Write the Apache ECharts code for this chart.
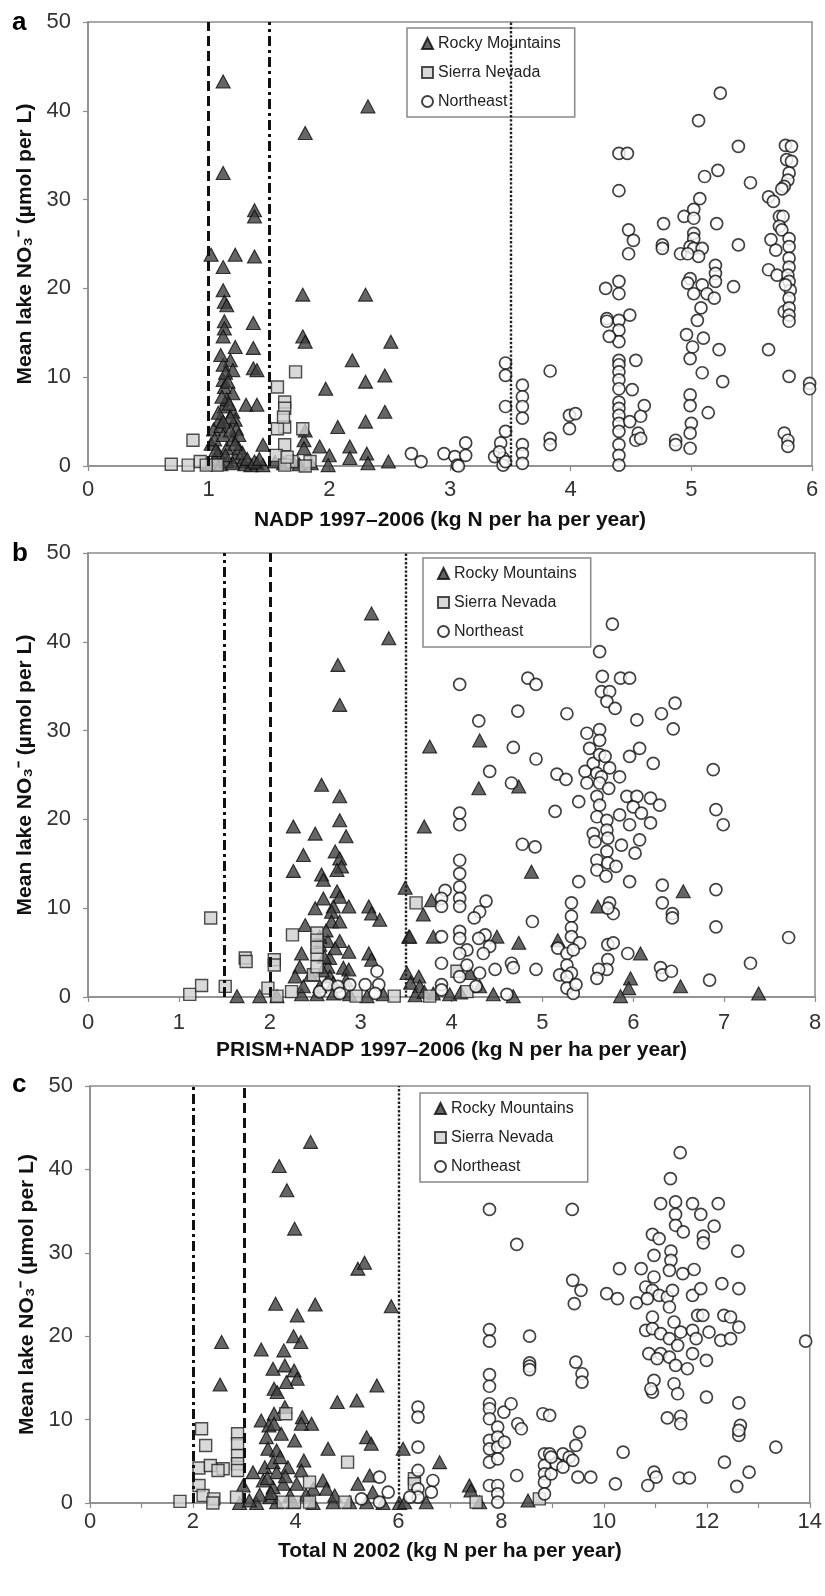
<!DOCTYPE html>
<html>
<head>
<meta charset="utf-8">
<script src="https://cdn.jsdelivr.net/npm/echarts@6/dist/echarts.min.js"></script>
<style>html,body{margin:0;padding:0;background:#fff;}#c{width:825px;height:1596px;}</style>
</head>
<body>
<div id="c"></div>
<script>
// ---------- DATA ----------
var seriesNames = ['Rocky Mountains', 'Sierra Nevada', 'Northeast'];
var yTicks = [0, 10, 20, 30, 40, 50];
var xMaxA = 6, xMaxB = 8, xMaxC = 14;
var xTitleA = 'NADP 1997\u20132006 (kg N per ha per year)';
var xTitleB = 'PRISM+NADP 1997\u20132006 (kg N per ha per year)';
var xTitleC = 'Total N 2002 (kg N per ha per year)';
var yTitle = 'Mean lake NO\u2083\u207B (\u00B5mol per L)';
var panelLetters = ['a', 'b', 'c'];
// vertical reference lines: [dashed, dash-dot, dotted]
var linesA = [1.0, 1.5, 3.5];
var linesB = [2.0, 1.5, 3.5];
var linesC = [3.0, 2.0, 6.0];

var rockyA = [[1.12,43.3],[1.12,33.0],[1.38,28.8],[1.38,28.1],[1.02,23.8],[1.22,23.8],[1.38,23.6],[1.12,22.4],[1.12,19.8],[1.13,18.5],[1.15,18.1],[1.37,16.1],[1.13,16.3],[1.13,15.5],[1.12,14.6],[1.22,13.4],[1.37,13.3],[1.18,11.9],[1.12,11.4],[1.20,10.8],[1.37,11.0],[1.40,10.8],[1.12,9.7],[1.13,8.9],[1.20,8.2],[1.31,6.9],[1.40,6.9],[1.13,6.7],[1.20,6.1],[1.09,5.2],[1.22,5.2],[1.23,4.2],[1.04,4.1],[1.45,2.4],
[1.02,2.5],[1.05,3.0],[1.08,1.5],[1.10,4.5],[1.12,3.5],[1.15,2.0],[1.18,5.5],[1.20,3.0],[1.22,1.0],[1.25,2.0],[1.28,0.5],[1.05,0.8],[1.00,0.3],[1.10,0.2],[1.15,0.5],[1.20,0.3],[1.30,0.2],[1.35,0.1],[1.40,0.3],[1.45,0.1],[1.08,6.0],[1.15,7.5],[1.18,4.0],[1.12,5.0],[1.25,3.5],[1.28,1.5],[1.32,0.8],[1.38,0.5],[1.42,0.8],[1.10,12.5],[1.14,10.5],[1.16,9.5],[1.11,7.8],[1.17,7.0],[1.06,1.8],[1.14,1.2],[1.22,2.5],
[1.80,37.5],[2.32,40.5],[1.78,19.3],[2.30,19.3],[1.78,14.6],[1.80,14.0],[2.51,14.0],[2.19,11.9],[2.46,10.2],[2.30,9.5],[1.97,8.7],[2.46,6.1],[2.30,5.0],[2.07,4.4],[1.79,2.9],[1.92,2.2],[1.79,2.0],[2.00,1.2],[2.17,2.2],[2.17,0.9],[2.31,1.4],[2.32,0.3],[2.49,0.5],[1.99,0.1],[1.80,4.0],[1.62,0.3],[1.70,0.5],[1.75,0.2],[1.55,0.5],[1.85,0.3]];
var sierraA = [[0.69,0.2],[0.83,0.1],[0.87,2.9],[0.93,0.5],[1.07,0.1],[0.98,0.1],[1.72,10.6],[1.57,8.9],[1.63,7.2],[1.63,6.5],[1.63,4.4],[1.57,4.2],[1.78,4.2],[1.63,2.4],[1.56,1.2],[1.69,0.5],[1.84,0.5],[1.63,0.1],[1.80,0.0],[1.65,1.0],[1.62,5.5]];
var northeastA = [[2.68,1.4],[2.76,0.5],[2.95,1.4],[3.04,1.05],[3.06,0.1],[3.07,0.0],[3.13,2.6],[3.13,1.2],[3.37,1.05],[3.42,2.6],[3.46,3.9],[3.44,0.9],[3.44,0.1],[3.46,0.5],[3.41,1.6],[3.46,11.6],[3.46,10.2],[3.46,6.7],[3.60,9.1],[3.60,7.8],[3.60,6.7],[3.60,5.4],[3.60,2.4],[3.60,1.4],[3.60,0.3],[3.83,10.7],[3.83,3.1],[3.83,2.4],[3.99,5.7],[4.04,5.9],[3.99,4.2],
[4.40,35.2],[4.40,31.0],[4.40,20.8],[4.40,19.4],[4.40,16.4],[4.40,15.3],[4.40,14.0],[4.40,11.9],[4.40,11.4],[4.40,10.6],[4.40,9.7],[4.40,8.7],[4.40,7.2],[4.40,6.5],[4.40,5.7],[4.40,4.8],[4.40,3.9],[4.40,2.4],[4.40,1.2],[4.40,0.1],
[4.47,35.2],[4.29,20.0],[4.30,16.6],[4.30,16.3],[4.32,14.6],[4.48,26.6],[4.52,25.4],[4.48,23.9],[4.49,17.0],[4.54,11.9],[4.51,8.6],[4.61,6.8],[4.58,5.6],[4.56,3.7],[4.54,2.9],[4.58,3.1],[4.49,5.0],
[4.77,27.3],[4.76,24.9],[4.76,24.5],
[4.94,28.1],[4.91,23.9],[5.02,28.9],[5.02,27.9],[5.07,30.1],[5.06,38.9],[5.11,32.6],[5.22,33.3],[5.39,36.0],[5.24,42.0],[5.49,31.9],[5.21,27.3],[5.39,24.9],[5.02,26.2],[5.02,25.6],[4.99,24.7],[5.02,24.5],[5.09,24.5],[5.06,23.6],[4.97,23.9],[5.20,22.6],[5.20,21.7],[5.20,20.8],[4.99,21.1],[4.97,20.6],[5.09,20.4],[5.02,19.4],[5.13,19.4],[5.19,18.9],[5.35,20.2],[5.08,17.8],[5.05,16.4],[4.96,14.8],[5.10,14.4],[5.01,13.4],[4.99,12.1],[5.23,13.1],[5.09,10.5],[5.26,9.5],[5.14,6.0],[4.99,8.0],[4.99,6.8],[5.00,4.8],[4.99,3.7],[4.87,2.9],[4.87,2.4],[4.99,2.0],
[5.64,30.3],[5.68,29.8],[5.78,36.1],[5.83,36.0],[5.79,34.5],[5.83,34.3],[5.81,33.0],[5.80,32.2],[5.77,31.5],[5.75,31.2],[5.73,28.1],[5.76,28.1],[5.73,27.0],[5.75,26.6],[5.66,25.5],[5.70,24.3],[5.81,25.6],[5.81,24.7],[5.81,23.4],[5.64,22.1],[5.71,21.5],[5.81,22.4],[5.80,21.5],[5.81,20.8],[5.82,19.8],[5.81,18.9],[5.77,17.4],[5.81,17.8],[5.81,17.0],[5.81,16.3],[5.78,20.4],[5.64,13.1],[5.81,10.1],[5.77,3.7],[5.80,2.9],[5.80,2.2],[5.98,9.3],[5.98,8.7]];

var rockyB = [[3.12,43.2],[3.31,40.4],[2.75,37.4],[2.77,32.9],[2.57,23.9],[2.77,22.6],[2.77,19.9],[2.84,18.1],[2.26,19.2],[2.50,18.4],[2.37,16.0],[2.72,16.4],[2.77,15.6],[2.79,14.7],[2.74,14.3],[2.26,14.2],[2.57,13.8],[2.59,13.2],[2.74,11.9],[2.77,11.3],[2.59,11.1],[2.50,10.0],[2.70,10.2],[2.87,10.2],[3.09,10.2],[3.12,9.4],[3.21,8.7],[2.39,8.1],[2.68,9.6],[2.68,8.5],[2.77,8.5],[2.77,6.3],[2.64,6.3],[2.55,6.8],[2.55,5.9],[2.35,4.9],[2.87,5.1],[3.09,4.9],[3.12,4.2],[2.33,3.4],[2.66,4.4],[2.64,3.4],[2.81,3.3],[2.87,3.1],[2.28,2.3],[2.66,2.3],[2.84,1.9],[3.49,12.3],[3.53,6.8],[3.51,2.7],[1.64,0.1],[1.89,0.1],[2.08,0.1],[2.35,0.3],[2.52,0.3],[2.70,0.4],[2.88,0.3],[3.07,0.1],[3.25,0.3],[2.70,1.6],[2.55,1.2],[2.37,1.2],[2.45,2.5],[2.60,4.5],[2.58,3.0],[2.72,5.5],[2.62,7.5],
[3.76,28.2],[4.31,28.9],[4.30,23.5],[4.74,23.7],[3.70,19.2],[4.88,14.1],[3.78,10.9],[3.69,9.3],[3.54,6.8],[3.80,6.8],[4.50,6.8],[4.74,6.1],[5.17,6.4],[5.61,10.2],[6.55,11.9],[6.08,4.9],[5.97,2.1],[5.95,1.0],[5.86,0.1],[6.52,1.2],[7.38,0.4],[3.64,2.3],[3.55,1.6],[3.65,1.2],[4.20,2.7],[4.31,1.2],[4.46,0.3],[4.68,0.1],[3.80,0.4],[3.98,0.3],[3.60,0.2],[4.10,0.5],[3.70,0.6]];
var sierraB = [[1.12,0.3],[1.25,1.3],[1.35,8.9],[1.51,1.2],[1.73,4.4],[1.74,4.0],[1.98,1.0],[2.05,4.2],[2.05,3.6],[2.24,0.6],[2.25,7.0],[2.52,7.2],[2.52,6.4],[2.52,4.8],[2.48,2.5],[2.95,0.1],[3.37,0.1],[3.61,10.6],[2.52,3.4],[2.08,0.1],[3.76,0.1],[4.06,2.9],[4.17,0.6],[2.52,5.6]];
var northeastB = [[3.18,2.9],[2.55,0.6],[2.64,1.4],[2.75,1.2],[2.88,1.4],[3.05,1.4],[3.20,1.4],[3.16,0.4],[2.77,0.4],
[4.09,35.2],[4.84,35.9],[4.93,35.2],[4.73,32.2],[4.30,31.1],[5.27,31.9],[4.68,28.1],[4.93,26.8],[4.42,25.4],[5.16,25.1],[5.26,24.5],[4.66,24.1],[5.14,20.9],[4.09,20.7],[4.09,19.4],[4.78,17.2],[4.92,16.9],[4.09,15.4],[4.09,13.9],[4.09,12.4],[3.93,12.0],[3.89,11.1],[4.09,11.1],[4.09,10.2],[4.38,10.8],[4.31,9.6],[4.25,8.9],[4.89,8.5],[3.89,10.2],[3.89,6.8],[4.09,7.4],[4.09,6.6],[4.37,7.0],[4.30,6.6],[4.42,5.7],[4.17,5.3],[4.09,4.9],[4.35,4.9],[3.89,3.8],[4.17,3.6],[4.48,3.1],[4.66,3.8],[4.68,3.3],[4.93,3.1],[4.09,2.3],[4.31,2.7],[3.89,1.4],[3.89,0.8],[4.27,1.2],[4.61,0.3],
[5.32,10.6],[5.32,9.1],[5.32,7.8],[5.32,6.8],[5.41,6.1],[5.17,5.5],[5.27,4.9],[5.34,5.3],[5.27,3.6],[5.32,2.7],[5.19,2.5],[5.27,2.3],[5.27,1.0],[5.34,0.4],[5.37,1.4],
[5.40,22.0],[5.40,13.0],[5.49,29.7],[5.52,28.0],[5.63,30.1],[5.63,28.9],[5.63,38.9],[5.66,36.1],[5.65,34.4],[5.74,34.4],[5.71,33.3],[5.80,32.5],[5.77,42.0],[5.86,35.9],[5.96,35.9],[6.04,31.2],[6.31,31.9],[6.46,33.1],[6.44,30.2],[6.07,28.0],[5.96,27.1],[6.22,26.3],[5.47,25.4],[5.49,24.1],[5.56,26.3],[5.63,27.3],[5.69,27.1],[5.74,25.8],[5.60,25.2],[5.65,24.8],[5.85,24.8],[5.63,24.1],[5.73,23.5],[5.60,22.6],[5.63,21.6],[5.93,22.6],[6.04,22.6],[6.19,22.4],[6.29,21.6],[6.00,21.4],[5.60,20.3],[5.71,19.9],[5.85,20.5],[5.96,19.4],[6.09,20.7],[6.19,19.6],[5.56,18.4],[5.71,18.8],[5.58,17.5],[5.72,17.9],[5.87,17.1],[6.07,17.7],[5.71,16.4],[6.02,16.2],[5.60,15.4],[5.72,15.1],[5.81,14.7],[5.60,14.3],[5.70,13.6],[5.96,13.0],[5.74,10.6],[5.78,9.4],[5.72,10.0],[6.32,12.6],[6.32,10.6],[6.43,9.4],[6.43,8.9],[6.88,25.6],[6.91,21.1],[6.99,19.4],[6.91,12.1],[6.91,7.9],[7.71,6.7],[7.29,3.8],[6.84,1.9],[5.72,5.9],[5.78,6.1],[5.72,4.2],[5.71,3.1],[5.62,3.1],[5.60,2.1],[5.94,4.9],[6.30,3.3],[6.32,2.5],[6.42,2.9]];

var rockyC = [[4.29,43.3],[3.68,40.4],[3.83,37.5],[3.98,32.9],[5.21,28.1],[5.34,28.8],[3.61,23.9],[4.38,23.8],[5.86,23.6],[4.03,22.5],[3.96,20.0],[4.10,19.3],[2.56,19.3],[3.33,18.4],[3.77,18.3],[3.56,16.1],[3.79,16.5],[3.97,15.9],[4.03,14.9],[3.82,14.5],[2.53,14.2],[5.58,14.1],[3.58,13.7],[3.64,13.3],[5.19,12.3],[4.81,12.1],[3.79,11.5],[3.58,10.7],[4.13,10.3],[4.31,9.5],[4.11,9.5],[3.33,9.9],[3.48,9.3],[3.58,9.5],[3.72,8.3],[3.43,7.9],[5.38,7.9],[5.47,7.1],[3.98,7.5],[4.63,6.5],[3.46,6.5],[3.63,6.3],[4.16,5.1],[3.17,3.7],[3.40,4.3],[3.56,4.9],[3.85,4.3],[3.63,3.7],[4.11,3.9],[4.53,2.7],[5.44,3.3],[5.21,2.3],[2.98,2.1],[3.37,2.7],[3.76,2.3],[4.02,2.3],[4.34,1.7],[4.60,1.7],[3.56,1.9],[5.50,1.3],[6.09,6.5],[2.91,0.0],[3.24,0.0],[3.63,0.1],[3.95,0.1],[4.34,0.0],[4.73,0.1],[5.05,0.1],[5.38,0.1],[5.70,0.0],[6.02,0.0],[3.50,0.7],[3.89,0.9],[4.76,0.9],[6.80,4.9],[7.38,2.1],[7.41,1.5],[7.58,0.1],[8.52,0.3],[6.12,0.1],[6.54,0.1],[3.45,3.0],[3.70,5.5],[3.52,1.2],[3.80,3.2],[4.20,1.0],[3.30,1.0],[3.10,0.3]];
var sierraC = [[1.75,0.2],[2.17,8.9],[2.25,6.9],[2.12,4.2],[2.34,4.5],[2.59,4.1],[2.49,3.9],[2.87,8.3],[2.87,7.1],[2.87,5.7],[2.87,4.7],[2.87,3.9],[2.12,2.1],[2.20,0.9],[2.41,0.5],[2.39,0.0],[2.85,0.7],[3.81,10.7],[4.27,2.5],[5.01,4.9],[4.96,0.1],[3.76,0.1],[3.98,0.1],[4.27,0.1],[6.31,2.9],[6.31,2.3],[7.51,0.1],[8.74,0.5]];
var northeastC = [[5.63,3.1],[5.80,1.3],[5.63,0.1],[5.28,0.5],[6.38,11.5],[6.38,10.3],[6.38,6.7],[6.38,3.9],[6.38,1.7],[6.38,0.7],[6.67,2.7],[6.64,1.3],[6.22,0.7],
[7.77,35.2],[7.77,20.8],[7.77,19.4],[7.77,15.4],[7.77,14.0],[7.77,11.9],[7.77,11.3],[7.77,10.1],[7.77,7.5],[7.77,6.5],[7.77,4.9],[7.77,2.1],[7.93,9.1],[7.93,7.9],[7.93,6.7],[7.93,5.3],[7.93,2.1],[7.93,1.1],[7.93,0.1],[8.05,10.9],[8.06,7.3],[8.19,11.9],[8.30,31.0],[8.32,9.5],[8.39,8.9],[8.30,3.3],
[8.55,20.0],[8.55,16.8],[8.55,16.4],[8.55,16.0],[8.81,10.7],[8.94,10.5],
[8.84,5.9],[8.84,4.5],[8.84,3.5],[8.84,2.5],[8.84,1.1],[8.94,5.9],[8.97,3.5],[9.07,4.7],[9.20,5.9],[9.20,4.3],[9.32,5.5],[9.45,6.9],[9.52,8.5],[9.39,5.1],[9.49,3.1],[9.74,3.1],[8.97,5.5],
[9.38,35.2],[9.39,26.7],[9.55,25.5],[9.42,23.9],[9.45,16.9],[9.57,15.5],[9.57,14.5],[10.30,28.1],[10.05,25.1],[10.26,24.5],[10.22,2.3],[10.37,6.1],
[11.48,42.0],[11.29,38.9],[11.10,35.9],[11.39,36.1],[11.72,35.9],[12.22,35.9],[11.39,34.6],[11.39,33.3],[11.54,32.5],[11.88,34.6],[12.14,33.2],[11.93,32.0],[11.93,31.2],[10.94,32.2],[11.07,31.7],[12.60,30.2],[11.30,30.2],[11.30,29.1],[10.72,28.1],[10.97,29.7],[11.27,27.9],[11.53,27.5],[11.75,28.0],[10.97,27.1],[10.81,25.9],[10.94,25.5],[11.07,24.9],[10.63,24.0],[10.84,24.5],[11.23,24.7],[11.33,25.5],[11.27,23.5],[11.72,24.9],[11.88,25.7],[12.29,26.3],[12.62,25.7],[10.94,22.3],[11.36,21.7],[10.81,20.7],[10.94,20.9],[11.10,20.3],[11.27,19.7],[11.49,20.5],[11.72,20.7],[11.82,22.5],[11.92,22.5],[11.79,19.7],[12.04,20.5],[12.27,19.5],[12.33,22.5],[12.46,22.3],[12.46,19.7],[12.62,21.1],[11.43,18.9],[10.87,17.9],[11.10,17.9],[11.03,17.3],[11.27,17.5],[11.39,16.5],[11.62,16.1],[11.72,17.9],[11.99,17.1],[10.97,14.7],[11.36,14.3],[10.94,13.3],[11.43,13.1],[10.91,13.7],[11.99,12.7],[11.23,10.2],[11.49,10.4],[11.49,9.5],[12.62,12.0],[12.65,9.3],[12.62,8.1],[12.62,8.7],[13.92,19.4],[13.34,6.7],[12.34,4.9],[12.82,3.7],[12.58,2.0],[10.97,3.7],[11.01,3.1],[10.85,2.1],[11.46,3.0],[11.66,3.0]];

// ---------- LAYOUT ----------
var FONT = '"Liberation Sans", Arial, sans-serif';
var panels = [
  {grid:{left:88, top:22, width:724, height:444}, xMax:xMaxA, xTitle:xTitleA, nameGap:44, xLabelMargin:13, lines:linesA, legend:{left:407, top:28}, letterTop:10, labelEvery:1,
   data:[rockyA, sierraA, northeastA]},
  {grid:{left:88, top:553, width:727, height:444}, xMax:xMaxB, xTitle:xTitleB, nameGap:43, xLabelMargin:15, lines:linesB, legend:{left:423, top:558}, letterTop:541, labelEvery:1,
   data:[rockyB, sierraB, northeastB]},
  {grid:{left:90, top:1086, width:721, height:417}, xMax:xMaxC, xTitle:xTitleC, nameGap:38, xLabelMargin:8, lines:linesC, legend:{left:420, top:1093}, letterTop:1072, labelEvery:2,
   data:[rockyC, sierraC, northeastC]}
];

var axisGray = '#8c8c8c';
var styles = [
  {symbol:'triangle', symbolSize:[14,13], itemStyle:{color:'#3f3f3f', borderColor:'#0a0a0a', borderWidth:1.1}},
  {symbol:'rect', symbolSize:12, itemStyle:{color:'#cfcfcf', borderColor:'#222', borderWidth:1.4}},
  {symbol:'circle', symbolSize:12, itemStyle:{color:'#ffffff', borderColor:'#111', borderWidth:1.7}}
];
var lineStyles = [
  {color:'#111', width:3, type:[10,5]},
  {color:'#111', width:3, type:[10,4,3,4]},
  {color:'#222', width:2.4, type:[2.4,1.8]}
];

var grids = [], xAxes = [], yAxes = [], series = [], legends = [], graphics = [];
panels.forEach(function (p, i) {
  grids.push({left:p.grid.left, top:p.grid.top, width:p.grid.width, height:p.grid.height,
    show:true, borderColor:axisGray, borderWidth:1.5, backgroundColor:'transparent'});
  var every = p.labelEvery;
  xAxes.push({type:'value', gridIndex:i, min:0, max:p.xMax, interval:1,
    name:p.xTitle, nameLocation:'middle', nameGap:p.nameGap,
    nameTextStyle:{fontFamily:FONT, fontWeight:'bold', fontSize:21, color:'#111'},
    axisLine:{show:true, onZero:false, lineStyle:{color:axisGray, width:1.5}},
    axisTick:{show:true, inside:false, length:5, lineStyle:{color:axisGray, width:1.2}},
    axisLabel:{fontFamily:FONT, fontSize:22, color:'#333', margin:p.xLabelMargin,
      formatter:function (v) { return (v % every === 0) ? String(v) : ''; }},
    splitLine:{show:false}});
  yAxes.push({type:'value', gridIndex:i, min:0, max:50, interval:10,
    name:yTitle, nameLocation:'middle', nameGap:52, nameRotate:90,
    nameTextStyle:{fontFamily:FONT, fontWeight:'bold', fontSize:21, color:'#111'},
    axisLine:{show:true, onZero:false, lineStyle:{color:axisGray, width:1.5}},
    axisTick:{show:true, inside:false, length:5, lineStyle:{color:axisGray, width:1.2}},
    axisLabel:{fontFamily:FONT, fontSize:22, color:'#333', margin:17},
    splitLine:{show:false}});
  // reference lines
  series.push({type:'line', xAxisIndex:i, yAxisIndex:i, data:[], silent:true, z:1,
    markLine:{silent:true, symbol:['none','none'], animation:false, label:{show:false},
      data:p.lines.map(function (v, k) { return {xAxis:v, lineStyle:lineStyles[k]}; })}});
  p.data.forEach(function (d, k) {
    series.push({type:'scatter', name:seriesNames[k], xAxisIndex:i, yAxisIndex:i, data:d, clip:false, z:2 + k,
      symbol:styles[k].symbol, symbolSize:styles[k].symbolSize, itemStyle:styles[k].itemStyle,
      emphasis:{disabled:true}});
  });
  legends.push({data:seriesNames, orient:'vertical', left:p.legend.left, top:p.legend.top,
    selectedMode:false, backgroundColor:'#fff', borderColor:'#888', borderWidth:1.5, borderRadius:0,
    padding:[6, 14, 6, 14], itemGap:10, itemWidth:11, itemHeight:11,
    textStyle:{fontFamily:FONT, fontSize:16, color:'#222', lineHeight:19}});
  graphics.push({type:'text', left:12, top:p.letterTop,
    style:{text:panelLetters[i], font:'bold 26px ' + FONT, fill:'#000'}});
});

var chart = echarts.init(document.getElementById('c'), null, {renderer:'canvas'});
chart.setOption({
  animation:false,
  backgroundColor:'#fff',
  grid:grids, xAxis:xAxes, yAxis:yAxes, series:series, legend:legends, graphic:graphics
});
</script>
</body>
</html>
